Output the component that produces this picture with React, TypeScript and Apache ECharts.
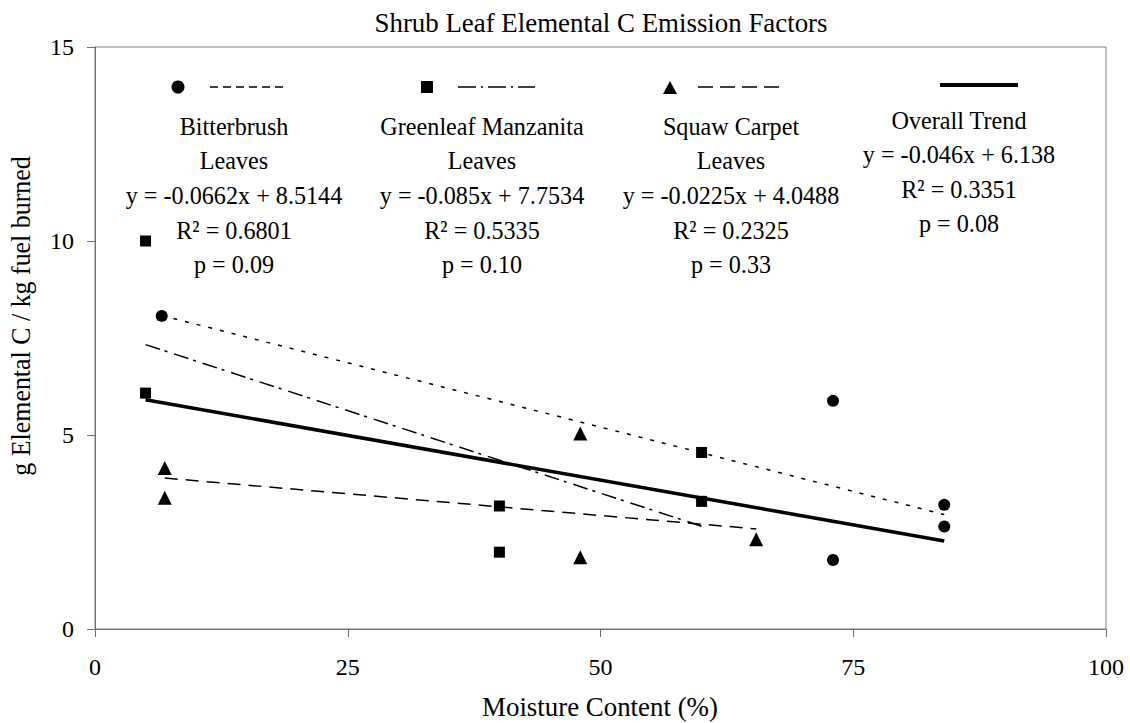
import React, { useEffect, useRef } from "react";
import * as echarts from "echarts";

// ---- data ----
const bitterbrushPoints: number[][] = [[6.6, 8.07], [73, 5.88], [84, 3.2], [84, 2.64], [73, 1.78]];
const manzanitaPoints: number[][] = [[5, 10.0], [5, 6.08], [40, 3.17], [40, 1.98], [60, 4.55], [60, 3.29]];
const squawPoints: number[][] = [[6.9, 4.15], [6.9, 3.38], [48, 5.04], [48, 1.85], [65.4, 2.31]];

const bitterbrushTrend: number[][] = [[6.6, 8.08], [84, 2.95]];
const manzanitaTrend: number[][] = [[5, 7.33], [60, 2.65]];
const squawTrend: number[][] = [[6.9, 3.89], [65.4, 2.58]];
const overallTrend: number[][] = [[5, 5.91], [84, 2.27]];

const xRange = [0, 100, 25];
const yRange = [0, 15, 5];

const titleText = "Shrub Leaf Elemental C Emission Factors";
const xAxisName = "Moisture Content (%)";
const yAxisName = "g Elemental C / kg fuel burned";

const bitterbrushLabel = ["Bitterbrush", "Leaves", "y = -0.0662x + 8.5144", "R² = 0.6801", "p = 0.09"];
const manzanitaLabel = ["Greenleaf Manzanita", "Leaves", "y = -0.085x + 7.7534", "R² = 0.5335", "p = 0.10"];
const squawLabel = ["Squaw Carpet", "Leaves", "y = -0.0225x + 4.0488", "R² = 0.2325", "p = 0.33"];
const overallLabel = ["Overall Trend", "y = -0.046x + 6.138", "R² = 0.3351", "p = 0.08"];

const FONT = "Liberation Serif";

function stretchedText(text: string, x: number, y: number, size: number, sx: number, rotation = 0) {
  return {
    type: "text",
    x,
    y,
    rotation,
    scaleX: sx,
    silent: true,
    style: {
      text,
      x: 0,
      y: 0,
      textAlign: "center",
      textVerticalAlign: "middle",
      fontFamily: FONT,
      fontSize: size,
      fill: "#000",
    },
  };
}

function column(lines: string[], cx: number, ys: number[]) {
  return lines.map((t, i) => stretchedText(t, cx, ys[i], 26, 0.93));
}

export default function App() {
  const ref = useRef<HTMLDivElement>(null);

  useEffect(() => {
    if (!ref.current) return;
    const chart = echarts.init(ref.current, undefined, { renderer: "svg" });
    const rowsA = [126, 160, 195, 230, 264];
    const rowsB = [120, 154, 189, 223];

    const graphics: any[] = [
      stretchedText(titleText, 601, 23, 28, 0.96),
      stretchedText(xAxisName, 600, 707, 28, 0.96),
      stretchedText(yAxisName, 21, 316, 27, 0.96, Math.PI / 2),
      // legend samples
      { type: "circle", shape: { cx: 178, cy: 87, r: 6.5 }, style: { fill: "#000" } },
      { type: "line", shape: { x1: 210, y1: 87, x2: 288, y2: 87 }, style: { stroke: "#000", lineWidth: 1.5, lineDash: [8, 5] } },
      { type: "rect", shape: { x: 421, y: 81, width: 12, height: 12 }, style: { fill: "#000" } },
      { type: "line", shape: { x1: 458, y1: 87, x2: 535, y2: 87 }, style: { stroke: "#000", lineWidth: 1.5, lineDash: [18, 5, 2, 5] } },
      { type: "polygon", shape: { points: [[670, 81], [677, 94], [663, 94]] }, style: { fill: "#000" } },
      { type: "line", shape: { x1: 698, y1: 87, x2: 781, y2: 87 }, style: { stroke: "#000", lineWidth: 1.5, lineDash: [15, 7] } },
      { type: "line", shape: { x1: 940, y1: 85, x2: 1018, y2: 85 }, style: { stroke: "#000", lineWidth: 4 } },
      ...column(bitterbrushLabel, 234, rowsA),
      ...column(manzanitaLabel, 482, rowsA),
      ...column(squawLabel, 731, rowsA),
      ...column(overallLabel, 959, rowsB),
    ];

    const axisCommon = {
      splitLine: { show: false },
      axisLine: { show: true, lineStyle: { color: "#707070", width: 1 } },
      axisTick: { show: true, inside: false, length: 8, lineStyle: { color: "#707070" } },
    };

    chart.setOption({
      animation: false,
      backgroundColor: "#fff",
      textStyle: { fontFamily: FONT },
      grid: {
        left: 95,
        right: 24,
        top: 47,
        bottom: 94,
        show: true,
        borderColor: "#808080",
        borderWidth: 1,
        backgroundColor: "transparent",
      },
      xAxis: {
        type: "value",
        min: xRange[0],
        max: xRange[1],
        interval: xRange[2],
        ...axisCommon,
        axisLabel: { fontFamily: FONT, fontSize: 24, color: "#000", margin: 26 },
      },
      yAxis: {
        type: "value",
        min: yRange[0],
        max: yRange[1],
        interval: yRange[2],
        ...axisCommon,
        axisLabel: { fontFamily: FONT, fontSize: 24, color: "#000", margin: 21 },
      },
      graphic: graphics,
      series: [
        {
          type: "line",
          data: bitterbrushTrend,
          showSymbol: false,
          symbol: "none",
          lineStyle: { color: "#000", width: 1.5, type: [4, 8] },
          z: 2,
        },
        {
          type: "line",
          data: manzanitaTrend,
          showSymbol: false,
          symbol: "none",
          lineStyle: { color: "#000", width: 1.5, type: [15, 5, 3, 7] },
          z: 2,
        },
        {
          type: "line",
          data: squawTrend,
          showSymbol: false,
          symbol: "none",
          lineStyle: { color: "#000", width: 1.5, type: [13, 8] },
          z: 2,
        },
        {
          type: "line",
          data: overallTrend,
          showSymbol: false,
          symbol: "none",
          lineStyle: { color: "#000", width: 3.5, type: "solid" },
          z: 2,
        },
        {
          type: "scatter",
          data: bitterbrushPoints,
          symbol: "circle",
          symbolSize: 12,
          itemStyle: { color: "#000", opacity: 1 },
          z: 3,
        },
        {
          type: "scatter",
          data: manzanitaPoints,
          symbol: "rect",
          symbolSize: 11,
          itemStyle: { color: "#000", opacity: 1 },
          z: 3,
        },
        {
          type: "scatter",
          data: squawPoints,
          symbol: "triangle",
          symbolSize: 14,
          itemStyle: { color: "#000", opacity: 1 },
          z: 3,
        },
      ],
    });
    return () => chart.dispose();
  }, []);

  return (
    <div
      ref={ref}
      style={{ position: "absolute", left: 0, top: 0, width: 1130, height: 723, background: "#fff" }}
    />
  );
}
